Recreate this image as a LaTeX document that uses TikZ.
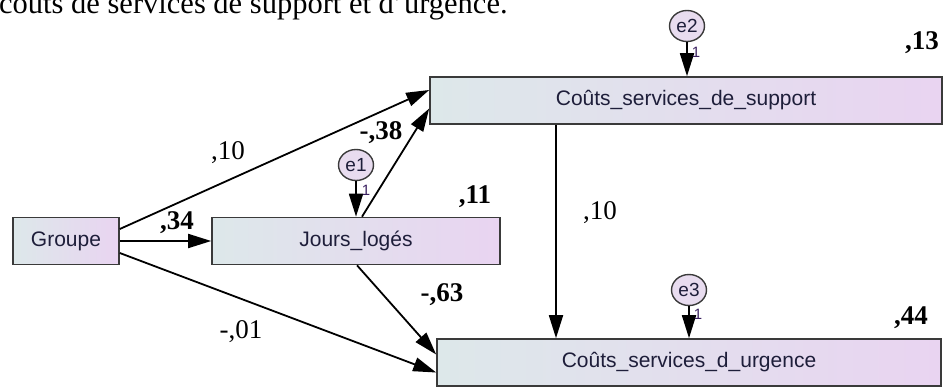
\documentclass[tikz,border=0pt]{standalone}
\usepackage{fontspec}
\setmainfont{Liberation Serif}
\newfontfamily\arialf{Liberation Sans}
\usetikzlibrary{arrows.meta,shapes.geometric,calc}
\definecolor{boxL}{HTML}{DDE8EA}
\definecolor{boxR}{HTML}{E9D4F1}
\definecolor{boxline}{HTML}{3A3A3A}
\definecolor{errfill}{HTML}{E8DCEF}
\definecolor{txt}{HTML}{1E1E3A}
\definecolor{onec}{HTML}{3A2060}
\begin{document}
\begin{tikzpicture}[x=1pt,y=-1pt,
  box/.style={draw=boxline,line width=1.6pt,left color=boxL,right color=boxR,minimum height=47pt,inner sep=0pt,font=\arialf\fontsize{21}{24}\selectfont,text=txt},
  err/.style={ellipse,draw=boxline,line width=1.4pt,fill=errfill,minimum width=35pt,minimum height=31pt,inner sep=0pt,font=\arialf\fontsize{19}{20}\selectfont,text=txt},
  conn/.style={draw=black,line width=1.8pt,-{Triangle[length=23pt,width=14pt]}},
  coef/.style={inner sep=0pt,font=\fontsize{27}{30}\selectfont},
  coefb/.style={inner sep=0pt,font=\bfseries\fontsize{27}{30}\selectfont},
  one/.style={inner sep=0pt,font=\arialf\fontsize{15}{16}\selectfont,text=onec}]
\useasboundingbox (0,0) rectangle (945,388);
\node[anchor=base west,inner sep=0pt,font=\fontsize{30.5}{32}\selectfont] (cap) at (-1,13.5) {coûts de services de support et d'urgence.};
% boxes
\node[box,minimum width=106pt] (G) at (66,241) {Groupe};
\node[box,minimum width=288pt] (J) at (356,241) {Jours\_logés};
\node[box,minimum width=512pt] (S) at (686,100.5) {Coûts\_services\_de\_support};
\node[box,minimum width=504pt] (U) at (689,362.5) {Coûts\_services\_d\_urgence};
% errors
\node[err] (e1) at (356,165) {e1};
\node[err] (e2) at (687,26) {e2};
\node[err] (e3) at (689,290) {e3};
% error arrows
\draw[conn] (e1.south) -- (e1.south |- J.north);
\draw[conn] (e2.south) -- (e2.south |- S.north);
\draw[conn] (e3.south) -- (e3.south |- U.north);
\node[one] (o1) at (366,190) {1};
\node[one] (o2) at (696,52) {1};
\node[one] (o3) at (698,314) {1};
% paths
\draw[conn] (G.east) -- (J.west);
\draw[conn] ([yshift=12pt]G.east) -- ([yshift=10.5pt]S.west);
\draw[conn] ([yshift=-12pt]G.east) -- ([yshift=-10pt]U.west);
\draw[conn] ([xshift=6pt]J.north) -- ([yshift=-8pt]S.west);
\draw[conn] ([xshift=1pt]J.south) -- ([yshift=8pt]U.west);
\draw[conn] ([xshift=-130pt]S.south) -- ([xshift=-133pt]U.north);
% coefficients
\node[coef] (c1) at (228,153) {,10};
\node[coefb] (c2) at (177,223) {,34};
\node[coef] (c3) at (241,332) {-,01};
\node[coefb] (c4) at (381,133) {-,38};
\node[coefb] (c5) at (442,295) {-,63};
\node[coef] (c6) at (600,213) {,10};
\node[coefb] (c7) at (475,197) {,11};
\node[coefb] (c8) at (922,43) {,13};
\node[coefb] (c9) at (911,318) {,44};
\end{tikzpicture}
\end{document}
